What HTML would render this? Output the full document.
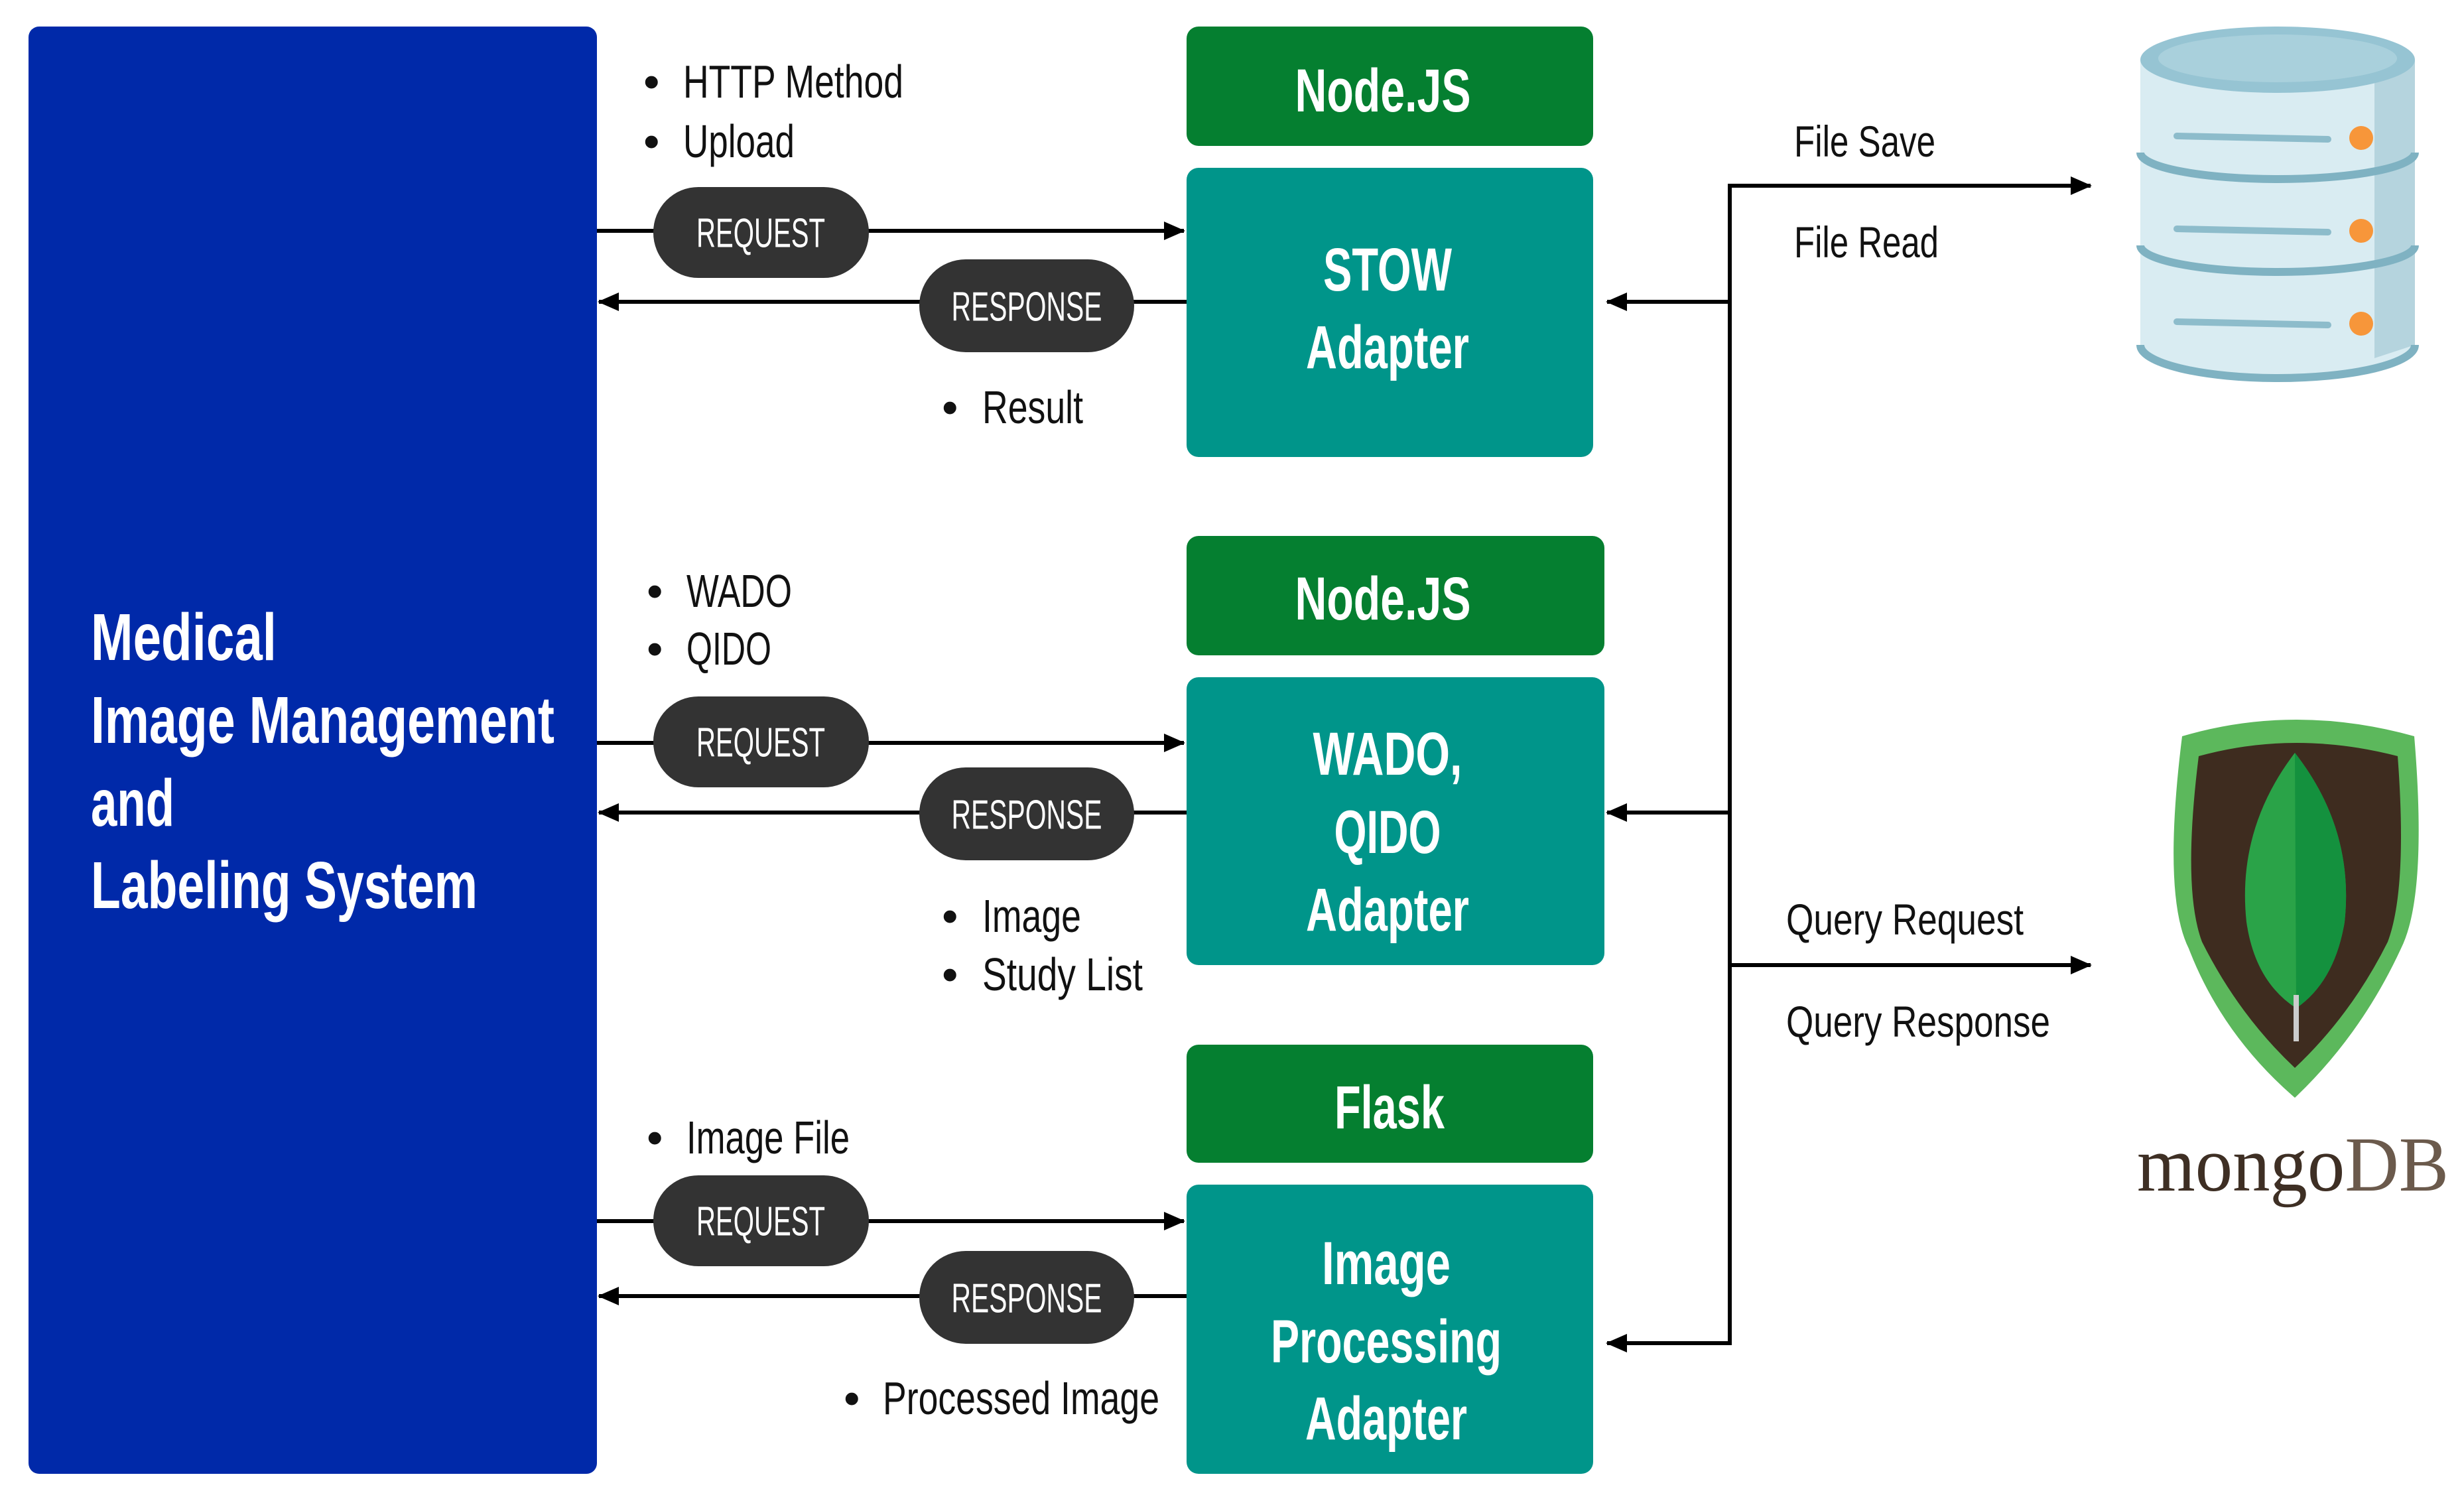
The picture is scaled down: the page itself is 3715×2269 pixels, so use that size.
<!DOCTYPE html>
<html><head><meta charset="utf-8"><style>
html,body{margin:0;padding:0;background:#fff;}
svg{display:block}
.n{font-family:"Liberation Sans",sans-serif;}
</style></head><body>
<svg width="3715" height="2269" viewBox="0 0 3715 2269" xmlns="http://www.w3.org/2000/svg">
<defs>
<marker id="ah" markerWidth="32" markerHeight="28" refX="30" refY="14" orient="auto" markerUnits="userSpaceOnUse" viewBox="0 0 32 28">
<path d="M0,0 L32,14 L0,28 z" fill="#000"/></marker>
</defs>
<rect width="3715" height="2269" fill="#fff"/>
<rect x="43" y="40" width="857" height="2182" rx="16" fill="#0029a9"/>
<g class="n" font-weight="bold" font-size="100" fill="#fff" lengthAdjust="spacingAndGlyphs">
<text x="137" y="995" textLength="280" lengthAdjust="spacingAndGlyphs">Medical</text>
<text x="137" y="1120" textLength="699" lengthAdjust="spacingAndGlyphs">Image Management</text>
<text x="137" y="1245" textLength="126" lengthAdjust="spacingAndGlyphs">and</text>
<text x="137" y="1369" textLength="583" lengthAdjust="spacingAndGlyphs">Labeling System</text>
</g>
<g>
<rect x="1789" y="40" width="613" height="180" rx="18" fill="#057f30"/>
<rect x="1789" y="253" width="613" height="436" rx="18" fill="#00958a"/>
<rect x="1789" y="808" width="630" height="180" rx="18" fill="#057f30"/>
<rect x="1789" y="1021" width="630" height="434" rx="18" fill="#00958a"/>
<rect x="1789" y="1575" width="613" height="178" rx="18" fill="#057f30"/>
<rect x="1789" y="1786" width="613" height="436" rx="18" fill="#00958a"/>
</g>
<g class="n" font-weight="bold" font-size="92" fill="#fff" text-anchor="middle" dominant-baseline="central">
<text x="2085" y="137" textLength="265" lengthAdjust="spacingAndGlyphs">Node.JS</text>
<text x="2092" y="407" textLength="194" lengthAdjust="spacingAndGlyphs">STOW</text>
<text x="2092" y="524" textLength="246" lengthAdjust="spacingAndGlyphs">Adapter</text>
<text x="2085" y="903" textLength="265" lengthAdjust="spacingAndGlyphs">Node.JS</text>
<text x="2092" y="1137" textLength="225" lengthAdjust="spacingAndGlyphs">WADO,</text>
<text x="2092" y="1255" textLength="161" lengthAdjust="spacingAndGlyphs">QIDO</text>
<text x="2092" y="1372" textLength="246" lengthAdjust="spacingAndGlyphs">Adapter</text>
<text x="2095" y="1670" textLength="166" lengthAdjust="spacingAndGlyphs">Flask</text>
<text x="2090" y="1905" textLength="194" lengthAdjust="spacingAndGlyphs">Image</text>
<text x="2090" y="2023" textLength="348" lengthAdjust="spacingAndGlyphs">Processing</text>
<text x="2090" y="2139" textLength="244" lengthAdjust="spacingAndGlyphs">Adapter</text>
</g>
<g stroke="#000" stroke-width="6" fill="none">
<line x1="900" y1="348" x2="1785" y2="348" marker-end="url(#ah)"/>
<line x1="1789" y1="455" x2="903" y2="455" marker-end="url(#ah)"/>
<line x1="900" y1="1120" x2="1785" y2="1120" marker-end="url(#ah)"/>
<line x1="1789" y1="1225" x2="903" y2="1225" marker-end="url(#ah)"/>
<line x1="900" y1="1841" x2="1785" y2="1841" marker-end="url(#ah)"/>
<line x1="1789" y1="1954" x2="903" y2="1954" marker-end="url(#ah)"/>
<line x1="2608" y1="277" x2="2608" y2="2028"/>
<line x1="2605" y1="280" x2="3152" y2="280" marker-end="url(#ah)"/>
<line x1="2608" y1="1455" x2="3152" y2="1455" marker-end="url(#ah)"/>
<line x1="2608" y1="455" x2="2423" y2="455" marker-end="url(#ah)"/>
<line x1="2608" y1="1225" x2="2423" y2="1225" marker-end="url(#ah)"/>
<line x1="2608" y1="2025" x2="2423" y2="2025" marker-end="url(#ah)"/>
</g>
<g fill="#333">
<rect x="985" y="282" width="325" height="137" rx="68"/>
<rect x="1386" y="391" width="324" height="140" rx="70"/>
<rect x="985" y="1050" width="325" height="137" rx="68"/>
<rect x="1386" y="1157" width="324" height="140" rx="70"/>
<rect x="985" y="1772" width="325" height="137" rx="68"/>
<rect x="1386" y="1886" width="324" height="140" rx="70"/>
</g>
<g class="n" font-size="62" fill="#fff" text-anchor="middle" dominant-baseline="central">
<text x="1147" y="352" textLength="194" lengthAdjust="spacingAndGlyphs">REQUEST</text>
<text x="1548" y="463" textLength="227" lengthAdjust="spacingAndGlyphs">RESPONSE</text>
<text x="1147" y="1120" textLength="194" lengthAdjust="spacingAndGlyphs">REQUEST</text>
<text x="1548" y="1229" textLength="227" lengthAdjust="spacingAndGlyphs">RESPONSE</text>
<text x="1147" y="1842" textLength="194" lengthAdjust="spacingAndGlyphs">REQUEST</text>
<text x="1548" y="1958" textLength="227" lengthAdjust="spacingAndGlyphs">RESPONSE</text>
</g>
<g class="n" font-size="70" fill="#111" dominant-baseline="central">
<text x="970" y="123">•</text><text x="1030" y="123" textLength="332" lengthAdjust="spacingAndGlyphs">HTTP Method</text>
<text x="970" y="213">•</text><text x="1030" y="213" textLength="168" lengthAdjust="spacingAndGlyphs">Upload</text>
<text x="1420" y="614">•</text><text x="1481" y="614" textLength="152" lengthAdjust="spacingAndGlyphs">Result</text>
<text x="975" y="891">•</text><text x="1035" y="891" textLength="159" lengthAdjust="spacingAndGlyphs">WADO</text>
<text x="975" y="978">•</text><text x="1035" y="978" textLength="128" lengthAdjust="spacingAndGlyphs">QIDO</text>
<text x="1420" y="1381">•</text><text x="1481" y="1381" textLength="149" lengthAdjust="spacingAndGlyphs">Image</text>
<text x="1420" y="1469">•</text><text x="1481" y="1469" textLength="242" lengthAdjust="spacingAndGlyphs">Study List</text>
<text x="975" y="1715">•</text><text x="1035" y="1715" textLength="246" lengthAdjust="spacingAndGlyphs">Image File</text>
<text x="1272" y="2108">•</text><text x="1331" y="2108" textLength="417" lengthAdjust="spacingAndGlyphs">Processed Image</text>
</g>
<g font-family="Liberation Sans, sans-serif" font-size="66" fill="#111" dominant-baseline="central">
<text x="2705" y="213" textLength="213" lengthAdjust="spacingAndGlyphs">File Save</text>
<text x="2705" y="365" textLength="218" lengthAdjust="spacingAndGlyphs">File Read</text>
<text x="2693" y="1386" textLength="358" lengthAdjust="spacingAndGlyphs">Query Request</text>
<text x="2693" y="1540" textLength="398" lengthAdjust="spacingAndGlyphs">Query Response</text>
</g>
<g>
<path d="M3227,90 L3227,520 A207,50 0 0 0 3641,520 L3641,90 Z" fill="#d9ecf2"/>
<path d="M3580,90 L3641,90 L3641,520 L3580,540 Z" fill="#b5d4de"/>
<ellipse cx="3434" cy="90" rx="207" ry="50" fill="#96c4d3"/>
<ellipse cx="3434" cy="88" rx="180" ry="36" fill="#a9d0dc"/>
<g fill="none" stroke="#7fb2c2" stroke-width="12">
<path d="M3227,230 A207,40 0 0 0 3641,230"/>
<path d="M3227,370 A207,40 0 0 0 3641,370"/>
<path d="M3227,520 A207,50 0 0 0 3641,520"/>
</g>
<g stroke="#8dbccb" stroke-width="10" stroke-linecap="round">
<line x1="3282" y1="205" x2="3510" y2="210"/>
<line x1="3282" y1="345" x2="3510" y2="350"/>
<line x1="3282" y1="485" x2="3510" y2="490"/>
</g>
<g fill="#f7963a">
<circle cx="3560" cy="208" r="18"/><circle cx="3560" cy="348" r="18"/><circle cx="3560" cy="488" r="18"/>
</g>
</g>
<g>
<path d="M3290,1110 Q3460,1060 3640,1110 Q3660,1350 3620,1430 Q3560,1560 3460,1655 Q3350,1560 3300,1430 Q3260,1350 3290,1110 Z" fill="#5cb85c"/>
<path d="M3315,1140 Q3460,1100 3615,1140 Q3630,1340 3600,1420 Q3545,1530 3460,1610 Q3375,1530 3320,1420 Q3290,1340 3315,1140 Z" fill="#3e2c1f"/>
<path d="M3460,1135 Q3550,1250 3535,1390 Q3520,1480 3462,1520 Q3400,1480 3387,1390 Q3372,1250 3460,1135 Z" fill="#2aa348"/>
<path d="M3460,1135 Q3550,1250 3535,1390 Q3520,1480 3462,1520 Z" fill="#14913e"/>
<line x1="3462" y1="1500" x2="3462" y2="1570" stroke="#ccc" stroke-width="8"/>
<text x="3222" y="1795" font-family="Liberation Serif, serif" font-size="118" fill="#3e2f24" textLength="470" lengthAdjust="spacingAndGlyphs">mongo<tspan fill="#6b5a4c">DB</tspan></text>
</g>
</svg>
</body></html>
